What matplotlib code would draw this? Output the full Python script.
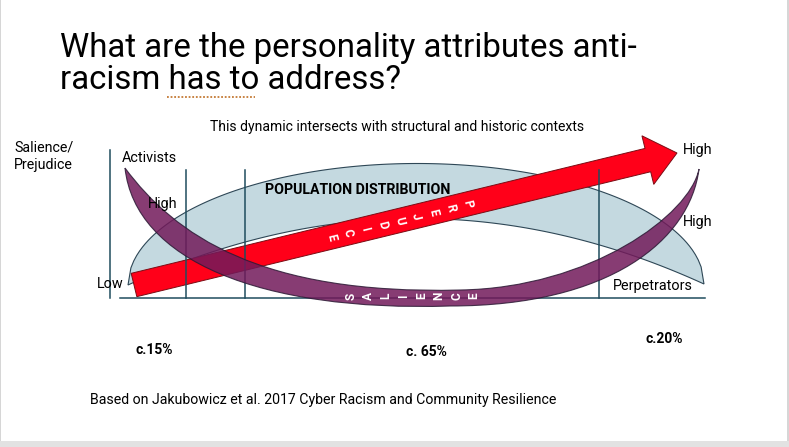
import numpy as np
import matplotlib.pyplot as plt
from matplotlib.patches import FancyArrow, PathPatch, Rectangle
from matplotlib.path import Path

# ---- content ----
title_lines = ["What are the personality attributes anti-", "racism has to address?"]
subtitle = "This dynamic intersects with structural and historic contexts"
footer = "Based on Jakubowicz et al. 2017 Cyber Racism and Community Resilience"
axis_label = "Salience/\nPrejudice"
shares = [15, 65, 20]
share_labels = ["c.15%", "c. 65%", "c.20%"]
share_label_xy = [(154, 350), (426, 352), (664, 339)]
group_bounds = [186, 245, 599]          # vertical dividers (px)
word_arrow = "PREJUDICE"
word_band = "SALIENCE"

# shape outlines in slide pixels
blue_ends = [(128, 285), (704, 284)]
blue_outer_h = 121
blue_inner_h = 66
arrow_start = (134, 285)
arrow_tip = (677, 153)
purple_lower = [(125, 168), (135, 260), (260, 312), (450, 306),
                (610, 306), (690, 240), (699, 169)]
purple_upper = [(699, 169), (690, 215), (590, 288), (460, 290),
                (260, 295), (175, 235), (125, 168)]

FONT = ["Roboto", "DejaVu Sans"]
plt.rcParams["font.family"] = FONT
TEAL = "#1f4d5e"

fig = plt.figure(figsize=(7.89, 4.47), dpi=100)
ax = fig.add_axes([0, 0, 1, 1])
ax.set_xlim(0, 789)
ax.set_ylim(447, 0)
ax.axis("off")

# slide frame
ax.add_patch(Rectangle((0, 441), 789, 6, color="#e2e2e2", lw=0, zorder=0))
ax.add_patch(Rectangle((0, 0), 1.5, 441, color="#d6d6d6", lw=0, zorder=0))
ax.add_patch(Rectangle((787.5, 0), 1.5, 441, color="#d6d6d6", lw=0, zorder=0))

# title
ax.text(60, 57, title_lines[0], fontsize=23.8, va="baseline", ha="left", color="black")
ax.text(60, 89, title_lines[1], fontsize=23.8, va="baseline", ha="left", color="black")
ax.plot([167, 255], [97, 97], ls=(0, (1, 1)), color="#c47a35", lw=1.3)

ax.text(397, 127, subtitle, fontsize=10.1, ha="center", va="center")
ax.text(14, 156, axis_label, fontsize=10.3, ha="left", va="center", linespacing=1.3)

# blue population crescent
(lx, ly), (rx, ry) = blue_ends
s = np.linspace(-1, 1, 200)
cx, cy = (lx + rx) / 2, (ly + ry) / 2
hx, hy = (rx - lx) / 2, (ry - ly) / 2
outer = np.column_stack([cx + s * hx, cy + s * hy - blue_outer_h * np.sqrt(1 - s ** 2)])
inner = np.column_stack([cx + s * hx, cy + s * hy - blue_inner_h * (1 - s ** 2)])[::-1]
blue = np.vstack([outer, inner])
ax.fill(blue[:, 0], blue[:, 1], facecolor="#c4d9e0", edgecolor="#2e4756", lw=0.8, zorder=1)

# axes lines
ax.plot([110, 110], [150, 298], color=TEAL, lw=1.1, zorder=1.5)
ax.plot([120, 705], [298, 298], color=TEAL, lw=1.1, zorder=1.5)

# red prejudice arrow
dx, dy = arrow_tip[0] - arrow_start[0], arrow_tip[1] - arrow_start[1]
ax.add_patch(FancyArrow(arrow_start[0], arrow_start[1], dx, dy, width=24,
                        head_width=50, head_length=30, length_includes_head=True,
                        facecolor="#ff0019", edgecolor="#7a0c14", lw=0.7, zorder=2))
ang = np.degrees(np.arctan2(-dy, dx))
ux, uy = dx / np.hypot(dx, dy), dy / np.hypot(dx, dy)
for i, ch in enumerate(word_arrow):
    t = 343 - i * 17.5
    ax.text(arrow_start[0] + ux * t, arrow_start[1] + uy * t, ch, color="white",
            fontsize=8.6, fontweight="bold", rotation=ang - 90,
            ha="center", va="center", rotation_mode="anchor", zorder=6)

# dividers
for xb in group_bounds:
    ax.plot([xb, xb], [170, 298], color=TEAL, lw=1.1, zorder=2.5)

# purple salience band
verts = purple_lower + purple_upper[1:]
codes = [Path.MOVETO] + [Path.CURVE4] * 12
ax.add_patch(PathPatch(Path(verts, codes), facecolor="#721a5a", alpha=0.85,
                       edgecolor="#2c1a35", lw=0.8, zorder=3))
for i, ch in enumerate(word_band):
    ax.text(351 + i * 17.6, 296, ch, color="white", fontsize=8.6, fontweight="bold",
            rotation=90, ha="center", va="center", rotation_mode="anchor", zorder=6)

# labels
ax.text(265, 190, "POPULATION DISTRIBUTION", fontsize=10.2, fontweight="bold",
        ha="left", va="center", zorder=5)
lab_fs = 10.4
ax.text(122, 158, "Activists", fontsize=lab_fs, ha="left", va="center", zorder=5)
ax.text(148, 204, "High", fontsize=lab_fs, ha="left", va="center", zorder=5)
ax.text(97, 284, "Low", fontsize=lab_fs, ha="left", va="center", zorder=5)
ax.text(683, 150, "High", fontsize=lab_fs, ha="left", va="center", zorder=5)
ax.text(683, 222, "High", fontsize=lab_fs, ha="left", va="center", zorder=5)
ax.text(613, 286, "Perpetrators", fontsize=lab_fs, ha="left", va="center", zorder=5)

for lab, (x, y) in zip(share_labels, share_label_xy):
    ax.text(x, y, lab, fontsize=10, fontweight="bold", ha="center", va="center")

ax.text(90, 400, footer, fontsize=10.2, ha="left", va="center")

fig.savefig("out.png", dpi=100)
